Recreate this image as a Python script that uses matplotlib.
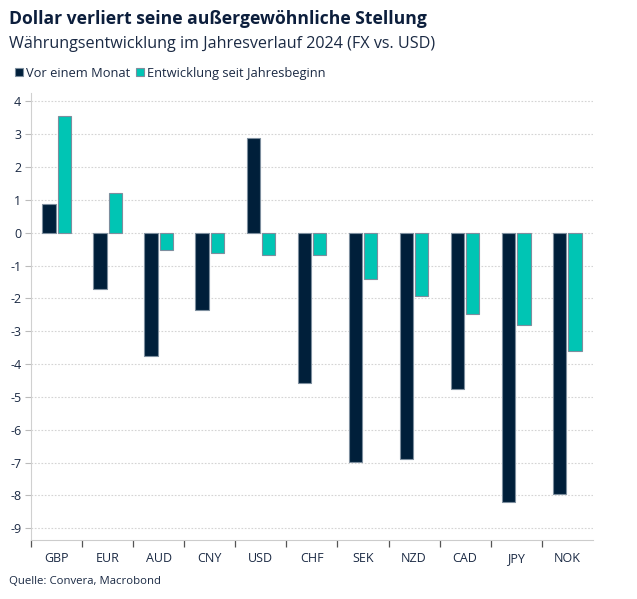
import matplotlib
matplotlib.use("agg")
import matplotlib.pyplot as plt
from matplotlib.patches import Patch
import numpy as np

plt.rcParams["font.family"] = ["Open Sans", "DejaVu Sans"]
plt.rcParams["axes.unicode_minus"] = False

# data
currencies = ["GBP", "EUR", "AUD", "CNY", "USD", "CHF", "SEK", "NZD", "CAD", "JPY", "NOK"]
vor_einem_monat = [0.87, -1.71, -3.75, -2.36, 2.89, -4.58, -6.99, -6.90, -4.77, -8.21, -7.95]
seit_jahresbeginn = [3.56, 1.20, -0.52, -0.62, -0.68, -0.69, -1.42, -1.92, -2.47, -2.82, -3.59]
y_ticks = list(range(-9, 5))

navy = "#001f3a"
teal = "#00c5b4"
edge = "#7d8e9e"
text_col = "#1b2a44"
grid_col = "#d4d4d4"

fig = plt.figure(figsize=(6.37, 5.99), dpi=100)
ax = fig.add_axes([0.0487, 0.0985, 0.882, 0.747])

x = np.arange(len(currencies))
w = 0.26
off = 0.15
ax.bar(x - off, vor_einem_monat, width=w, color=navy, edgecolor=edge, linewidth=0.8, zorder=3)
ax.bar(x + off, seit_jahresbeginn, width=w, color=teal, edgecolor=edge, linewidth=0.8, zorder=3)

ax.set_xlim(-0.5, len(currencies) - 0.5)
ax.set_ylim(-9.36, 4.27)

ax.set_yticks(y_ticks)
ax.set_yticklabels([str(t) for t in y_ticks])
ax.grid(axis="y", color=grid_col, linestyle=(0, (1.5, 1.5)), linewidth=0.8, zorder=0)

ax.set_xticks(x)
ax.set_xticklabels(currencies)
ax.set_xticks(np.arange(-0.5, len(currencies) - 0.5, 1.0), minor=True)
ax.tick_params(axis="x", which="major", length=0, pad=9, labelsize=9, labelcolor=text_col)
ax.tick_params(axis="x", which="minor", length=5, width=0.9, color="#555555", direction="out")
ax.tick_params(axis="y", length=4, width=0.8, color="#bbbbbb", labelsize=9, labelcolor=text_col, pad=3)

for s in ["top", "right"]:
    ax.spines[s].set_visible(False)
ax.spines["left"].set_color("#d0d0d0")
ax.spines["bottom"].set_color("#cccccc")
ax.spines["left"].set_linewidth(0.8)
ax.spines["bottom"].set_linewidth(0.8)

fig.text(0.014, 0.969, "Dollar verliert seine außergewöhnliche Stellung", fontsize=12.6,
         fontweight="bold", color="#0c1e3c", va="center", ha="left")
fig.text(0.014, 0.926, "Währungsentwicklung im Jahresverlauf 2024 (FX vs. USD)", fontsize=11.6,
         color=text_col, va="center", ha="left")

handles = [Patch(facecolor=navy, edgecolor=edge, linewidth=0.8, label="Vor einem Monat"),
           Patch(facecolor=teal, edgecolor=edge, linewidth=0.8, label="Entwicklung seit Jahresbeginn")]
leg = fig.legend(handles=handles, loc="center left", bbox_to_anchor=(0.005, 0.878), ncol=2,
                 frameon=False, handlelength=0.6, handleheight=0.6, handletextpad=0.3,
                 columnspacing=0.4, prop={"size": 9.3})
for t in leg.get_texts():
    t.set_color(text_col)

fig.text(0.014, 0.030, "Quelle: Convera, Macrobond", fontsize=8.2, color=text_col,
         va="center", ha="left")

fig.savefig("out.png", dpi=100)
